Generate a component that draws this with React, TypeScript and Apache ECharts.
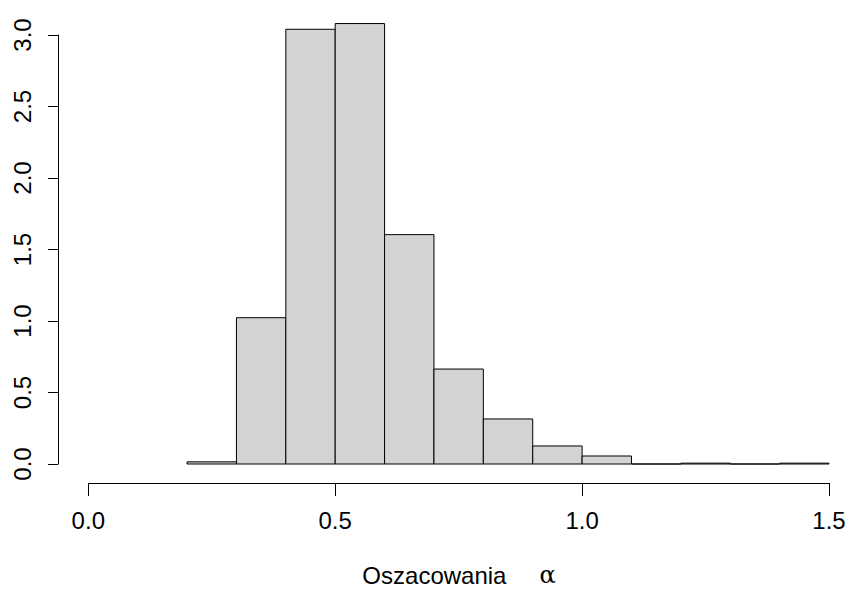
import React, { useEffect, useRef } from "react";
import * as echarts from "echarts";

// Histogram bins (left edge, right edge) and density values
const binStarts = [0.2, 0.3, 0.4, 0.5, 0.6, 0.7, 0.8, 0.9, 1.0, 1.1, 1.2, 1.3, 1.4];
const binEnds = [0.3, 0.4, 0.5, 0.6, 0.7, 0.8, 0.9, 1.0, 1.1, 1.2, 1.3, 1.4, 1.5];
const densities = [0.015, 1.023, 3.04, 3.08, 1.604, 0.664, 0.315, 0.126, 0.056, 0, 0.006, 0, 0.006];

const xTicks = [0.0, 0.5, 1.0, 1.5];
const yTicks = [0.0, 0.5, 1.0, 1.5, 2.0, 2.5, 3.0];
const xTitle = "Oszacowania";
const xSymbol = "α";

const FONT = "'Liberation Sans', Arial, sans-serif";

export default function App() {
  const ref = useRef<HTMLDivElement>(null);
  useEffect(() => {
    if (!ref.current) return;
    const chart = echarts.init(ref.current, undefined, { renderer: "svg" });
    const data = binStarts.map((s, i) => [s, binEnds[i], densities[i]]);
    chart.setOption({
      animation: false,
      backgroundColor: "#ffffff",
      grid: { left: 88.3, right: 20, top: 35, bottom: 127, containLabel: false },
      xAxis: {
        type: "value",
        min: xTicks[0],
        max: xTicks[xTicks.length - 1],
        interval: 0.5,
        offset: 19,
        axisLine: { show: true, onZero: false, lineStyle: { color: "#000", width: 1 } },
        axisTick: { show: true, length: 13, lineStyle: { color: "#000", width: 1 } },
        splitLine: { show: false },
        axisLabel: {
          color: "#000",
          fontSize: 24,
          fontFamily: FONT,
          margin: 25,
          formatter: (v: number) => v.toFixed(1),
        },
      },
      yAxis: {
        type: "value",
        min: yTicks[0],
        max: yTicks[yTicks.length - 1],
        interval: 0.5,
        offset: 30.3,
        axisLine: { show: true, onZero: false, lineStyle: { color: "#000", width: 1 } },
        axisTick: { show: true, length: 10, lineStyle: { color: "#000", width: 1 } },
        splitLine: { show: false },
        axisLabel: {
          color: "#000",
          fontSize: 24,
          fontFamily: FONT,
          rotate: 90,
          margin: 24,
          formatter: (v: number) => v.toFixed(1),
        },
      },
      series: [
        {
          type: "custom",
          clip: false,
          data,
          renderItem: (params: any, api: any) => {
            const s = api.value(0);
            const e = api.value(1);
            const v = api.value(2);
            const p0 = api.coord([s, 0]);
            const p1 = api.coord([e, v]);
            return {
              type: "polygon",
              shape: {
                points: [
                  [p0[0], p0[1]],
                  [p0[0], p1[1]],
                  [p1[0], p1[1]],
                  [p1[0], p0[1]],
                ],
              },
              style: { fill: "#D3D3D3", stroke: "#000", lineWidth: 1 },
            };
          },
        },
      ],
      graphic: [
        {
          type: "text",
          x: 459,
          y: 575,
          style: {
            text: `{a|${xTitle}}{b|${xSymbol}}`,
            align: "center",
            verticalAlign: "middle",
            rich: {
              a: { fontSize: 24, fontFamily: FONT, fill: "#000" },
              b: { fontSize: 24, fontFamily: "'DejaVu Serif', serif", fill: "#000", padding: [0, 0, 0, 33] },
            },
          },
        },
      ],
    });
    return () => chart.dispose();
  }, []);
  return (
    <div
      ref={ref}
      style={{ position: "fixed", left: 0, top: 0, width: 849, height: 591, background: "#fff" }}
    />
  );
}
